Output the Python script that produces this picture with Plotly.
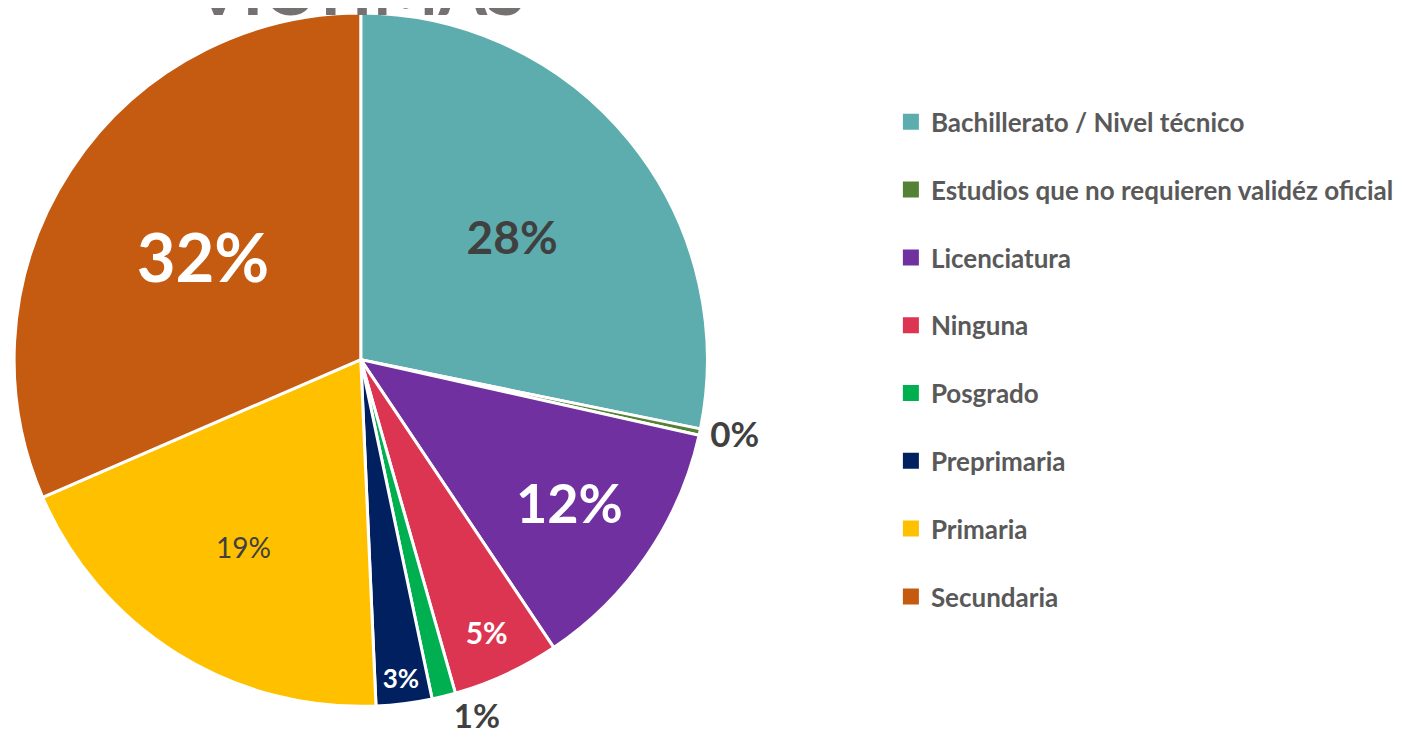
import plotly.graph_objects as go

categories = [
    "Bachillerato / Nivel técnico",
    "Estudios que no requieren validéz oficial",
    "Licenciatura",
    "Ninguna",
    "Posgrado",
    "Preprimaria",
    "Primaria",
    "Secundaria",
]
values = [28.2, 0.3, 12.1, 5.0, 1.1, 2.6, 19.2, 31.5]
colors = ["#5DADAE", "#548235", "#7030A0", "#DB3551", "#00B050", "#002060", "#FFC000", "#C55A11"]
label_colors = ["#404040", "#404040", "#FFFFFF", "#FFFFFF", "#404040", "#FFFFFF", "#404040", "#FFFFFF"]
label_sizes = [46, 35, 54, 30, 33, 26, 28, 67]
label_weights = ["bold", "bold", "bold", "bold", "bold", "bold", "normal", "bold"]
label_pos = ["inside", "outside", "inside", "inside", "outside", "inside", "inside", "inside"]

W, H = 1416, 743
cx, cy, r = 349, 349, 349
dom_x = [max(0.0, (cx - r) / W), min(1.0, (cx + r) / W)]
dom_y = [max(0.0, 1 - (cy + r) / H), min(1.0, 1 - (cy - r) / H)]

fig = go.Figure()
fig.add_trace(go.Pie(
    labels=categories,
    values=values,
    sort=False,
    direction="clockwise",
    rotation=0,
    marker=dict(colors=colors, line=dict(color="white", width=3)),
    texttemplate="%{percent:.0%}",
    textposition=label_pos,
    insidetextorientation="horizontal",
    textfont=dict(family="Lato", color=label_colors, size=label_sizes, weight=label_weights),
    showlegend=False,
    hoverinfo="skip",
    domain=dict(x=dom_x, y=dom_y),
))

for name, col in zip(categories, colors):
    fig.add_trace(go.Scatter(
        x=[None], y=[None], mode="markers", name=name, legendgroup=name,
        marker=dict(symbol="square", size=20, color=col),
    ))

fig.add_annotation(
    text="VICTIMAS", x=348 / W, y=1 - 19 / H, xref="paper", yref="paper",
    xanchor="center", yanchor="bottom", showarrow=False,
    font=dict(family="Lato", size=70, color="#767171", weight="bold"),
)

fig.update_layout(
    width=W, height=H,
    margin=dict(l=0, r=0, t=0, b=0),
    paper_bgcolor="white", plot_bgcolor="white",
    xaxis=dict(visible=False), yaxis=dict(visible=False),
    legend=dict(
        x=881 / W, y=1 - 86 / H, xanchor="left", yanchor="top",
        font=dict(family="Lato", size=26, color="#595959", weight="bold"),
        tracegroupgap=31, itemsizing="trace",
    ),
)

fig.write_html("out.html")
